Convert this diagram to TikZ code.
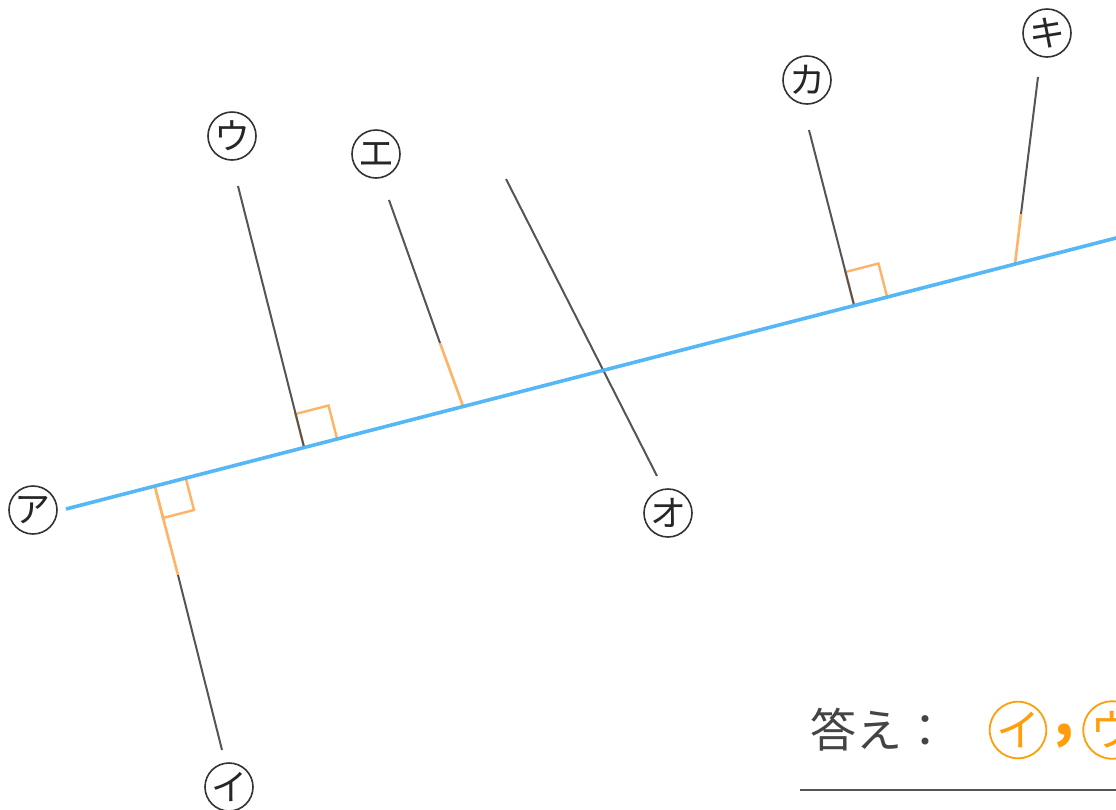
\documentclass[tikz,border=0pt]{standalone}
\usepackage{fontspec}
\newfontfamily\jp{Noto Sans CJK JP}
\definecolor{lineblue}{HTML}{4DB3F5}
\definecolor{markorange}{HTML}{FFB366}
\definecolor{ansorange}{HTML}{FF9D0A}
\definecolor{linegray}{HTML}{555555}
\definecolor{textgray}{HTML}{444444}
\tikzset{
  kana/.style={circle,draw=black!80,line width=0.8pt,minimum size=24pt,inner sep=0pt,
    font=\jp\fontsize{18}{18}\selectfont,text=black!85},
  anskana/.style={circle,draw=ansorange,line width=0.9pt,minimum size=28pt,inner sep=0pt,
    font=\jp\fontsize{22}{22}\selectfont,text=ansorange},
  seg/.style={linegray,line width=1pt},
  hl/.style={markorange,line width=1.3pt},
  rmark/.style={markorange,line width=1.2pt,line join=miter},
  base/.style={lineblue,line width=1.8pt,opacity=0.95}
}
\begin{document}
\begin{tikzpicture}[x=0.5pt,y=-0.5pt]
    \useasboundingbox (0,0) rectangle (1116,810);
    \foreach \n/\x/\y in {
    a0/66/509, a1/1130/234.4,
    Fi/155/487, Mi/178/575, Ei/222/750,
    Fu/304/447, Su/238/186,
    Fe/463/406, Me/440/343, Se/389/200,
    So/506/179, Eo/657/476,
    Fka/854/305, Ska/809/130,
    Fki/1015/264, Mki/1021/214, Ski/1038/77,
    u0/800/790, u1/1130/790}{
        \coordinate (\n) at (\x,\y);
    }
    % right angle marks
    \draw[rmark](Fu)--++(-8.5,-33)--++(33,-8.5)--++(8.5,33);
    \draw[rmark](Fi)--++(8,31)--++(31,-8)--++(-8,-31);
    \draw[rmark](Fka)--++(-8.5,-33)--++(33,-8.5)--++(8.5,33);
    % orange parts
    \draw[hl](Fi)--(Mi);
    \draw[hl](Fe)--(Me);
    \draw[hl](Fki)--(Mki);
    % gray parts
    \draw[seg](Mi)--(Ei);
    \draw[seg](Su)--(Fu);
    \draw[seg](Se)--(Me);
    \draw[seg](So)--(Eo);
    \draw[seg](Ska)--(Fka);
    \draw[seg](Ski)--(Mki);
    \draw[base](a0)--(a1);
    % labels
    \foreach \n/\k/\x/\y in {
    la/ア/33/510, li/イ/229/787, lu/ウ/232/136, le/エ/376/154,
    lo/オ/668/513, lka/カ/807/80, lki/キ/1047/33}{
        \node[kana](\n) at (\x,\y){\k};
    }
    % answer
    \node[anchor=west,text=textgray,font=\jp\fontsize{23}{23}\selectfont,inner sep=0pt](ans) at (810,730){答え：};
    \node[anskana](ai) at (1018,730){イ};
    \node[text=ansorange,font=\jp\bfseries\fontsize{28}{28}\selectfont,inner sep=0pt](comma) at (1064,736){,};
    \node[anskana](au) at (1112,730){ウ};
    \draw[linegray,line width=0.75pt](u0)--(u1);
\end{tikzpicture}
\end{document}
